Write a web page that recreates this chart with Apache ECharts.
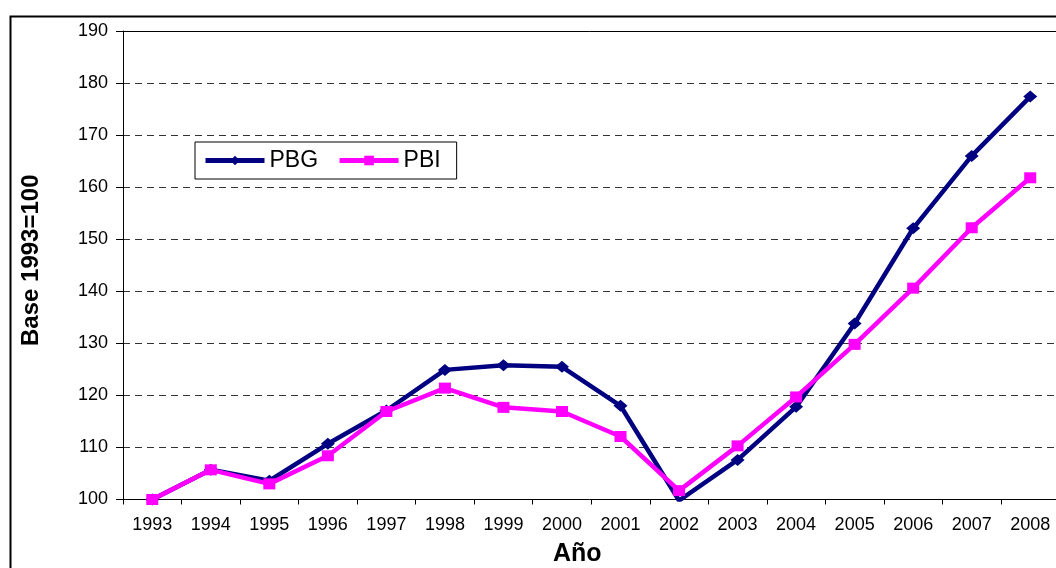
<!DOCTYPE html>
<html>
<head>
<meta charset="utf-8">
<style>
  html, body { margin: 0; padding: 0; background: #fff; }
  #chart { width: 1056px; height: 568px; }
</style>
<script src="https://cdn.jsdelivr.net/npm/echarts@6/dist/echarts.min.js"></script>
</head>
<body>
<div id="chart"></div>
<script>
// Years on the horizontal axis
const years = ['1993','1994','1995','1996','1997','1998','1999','2000',
               '2001','2002','2003','2004','2005','2006','2007','2008'];

// Index values, base 1993 = 100
const pbg = [100.0, 105.7, 103.6, 110.7, 117.1, 124.9, 125.8, 125.5,
             118.0, 99.8, 107.6, 117.8, 133.8, 152.1, 166.0, 177.4];
const pbi = [100.0, 105.7, 103.0, 108.4, 116.9, 121.4, 117.7, 116.9,
             112.1, 101.7, 110.3, 119.7, 129.8, 140.6, 152.2, 161.8];

// Value axis range and step
const yMin = 100, yMax = 190, yStep = 10;

const font = 'Liberation Sans, Arial, sans-serif';
const chart = echarts.init(document.getElementById('chart'), null, { renderer: 'canvas' });

chart.setOption({
  backgroundColor: '#ffffff',
  animation: false,
  textStyle: { fontFamily: font, color: '#000' },
  graphic: [{
    type: 'rect',
    left: 8, top: 14,
    shape: { width: 1100, height: 620 },
    style: { fill: 'none', stroke: '#000', lineWidth: 2 },
    z: 0
  }],
  grid: {
    left: 123, top: 31, width: 936.5, height: 468.5,
    containLabel: false,
    outerBoundsMode: 'none'
  },
  legend: {
    left: 195, top: 142,
    orient: 'horizontal',
    itemWidth: 59, itemHeight: 12,
    itemGap: 19,
    padding: [7, 16, 7, 8],
    borderColor: '#000', borderWidth: 1,
    backgroundColor: '#fff',
    lineStyle: { width: 5 },
    textStyle: { fontFamily: font, fontSize: 23, color: '#000' },
    data: ['PBG', 'PBI']
  },
  xAxis: [{
    type: 'category',
    data: years,
    boundaryGap: true,
    name: 'Año',
    nameLocation: 'middle',
    nameGap: 42,
    nameTextStyle: { fontFamily: font, fontSize: 25, fontWeight: 'bold', color: '#000', padding: [0, 28, 0, 0] },
    axisLine: { lineStyle: { color: '#000', width: 1 } },
    axisTick: { show: true, alignWithLabel: false, length: 5, lineStyle: { color: '#000' } },
    axisLabel: { fontFamily: font, fontSize: 18, color: '#000', margin: 17, interval: 0 },
    splitLine: { show: false }
  }, {
    type: 'category',
    data: years,
    position: 'top',
    axisLine: { lineStyle: { color: '#000', width: 1 } },
    axisTick: { show: false },
    axisLabel: { show: false },
    splitLine: { show: false }
  }],
  yAxis: {
    type: 'value',
    min: yMin, max: yMax, interval: yStep,
    name: 'Base 1993=100',
    nameLocation: 'middle',
    nameGap: 80,
    nameRotate: 90,
    nameTextStyle: { fontFamily: font, fontSize: 24, fontWeight: 'bold', color: '#000', padding: [0, 0, 0, 10] },
    axisLine: { show: true, lineStyle: { color: '#000', width: 1 } },
    axisTick: { show: true, length: 7, lineStyle: { color: '#000' } },
    axisLabel: { fontFamily: font, fontSize: 18, color: '#000', margin: 15 },
    splitLine: { show: true, lineStyle: { color: '#333', type: [7, 5], width: 1 } }
  },
  series: [{
    name: 'PBG',
    type: 'line',
    data: pbg,
    color: '#000080',
    symbol: 'diamond',
    symbolSize: [14, 12],
    lineStyle: { width: 4.5, color: '#000080' },
    itemStyle: { color: '#000080' },
    z: 3
  }, {
    name: 'PBI',
    type: 'line',
    data: pbi,
    color: '#ff00ff',
    symbol: 'rect',
    symbolSize: [12, 11],
    lineStyle: { width: 4.5, color: '#ff00ff' },
    itemStyle: { color: '#ff00ff' },
    z: 4
  }]
});
</script>
</body>
</html>
